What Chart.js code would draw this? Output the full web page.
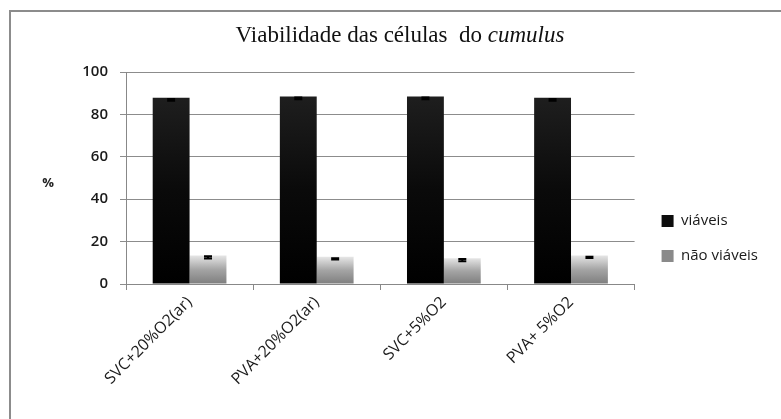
<!DOCTYPE html>
<html>
<head>
<meta charset="utf-8">
<script src="https://cdn.jsdelivr.net/npm/chart.js@4.4.1/dist/chart.umd.min.js"></script>
<style>
body { margin: 0; background: #fff; }
#wrap { position: relative; width: 781px; height: 419px; }
#frame { position: absolute; left: 9px; top: 10px; right: 0; bottom: 0; border-left: 2px solid #8c8c8c; border-top: 2px solid #8c8c8c; pointer-events: none; }
</style>
</head>
<body>
<div id="wrap">
  <canvas id="chart" width="781" height="419"></canvas>
  <div id="frame"></div>
</div>
<script>
const categories = ['SVC+20%O2(ar)', 'PVA+20%O2(ar)', 'SVC+5%O2', 'PVA+ 5%O2'];
const viaveis = [87.8, 88.5, 88.5, 87.8];
const naoViaveis = [13.5, 12.8, 12.2, 13.5];
const erroViaveis = [0.4, 0.4, 0.4, 0.4];
const erroNao = [0.5, 0.3, 0.5, 0.3];
const yTicks = [0, 20, 40, 60, 80, 100];

const yFont = { family: 'Open Sans', size: 15, weight: '600' };
const xFont = { family: 'Open Sans', size: 16 };
const legendFont = { family: 'Open Sans', size: 15 };
const legendColors = ['#0d0d0d', '#8a8a8a'];

// vertical gradient per bar, top to base
function barFill(stops, solid) {
    return function (ctx) {
        const chart = ctx.chart;
        if (ctx.type !== 'data' || !chart.chartArea) return solid;
        const y = chart.scales.y;
        const yTop = y.getPixelForValue(ctx.raw);
        const yBase = y.getPixelForValue(0);
        const g = chart.ctx.createLinearGradient(0, yTop, 0, yBase);
        stops.forEach(function (s, i) { g.addColorStop(i / (stops.length - 1), s); });
        return g;
    };
}

const errorBars = {
    id: 'errorBars',
    afterDatasetsDraw(chart) {
        const y = chart.scales.y;
        const c = chart.ctx;
        [erroViaveis, erroNao].forEach(function (errs, i) {
            const meta = chart.getDatasetMeta(i);
            const vals = chart.data.datasets[i].data;
            meta.data.forEach(function (bar, j) {
                const yHi = y.getPixelForValue(vals[j] + errs[j]) + 2;
                const yLo = y.getPixelForValue(vals[j] - errs[j]) + 2;
                c.save();
                c.strokeStyle = '#000';
                c.lineWidth = 2;
                c.beginPath();
                c.moveTo(bar.x - 4, yHi); c.lineTo(bar.x + 4, yHi);
                c.moveTo(bar.x, yHi); c.lineTo(bar.x, yLo);
                c.moveTo(bar.x - 4, yLo); c.lineTo(bar.x + 4, yLo);
                c.stroke();
                c.restore();
            });
        });
    }
};

// push the legend a bit further away from the plot
const legendShift = {
    id: 'legendShift',
    afterLayout(chart) {
        chart.legend.left += 7;
        chart.legend.right += 7;
    }
};

const titleAndUnit = {
    id: 'titleAndUnit',
    afterDraw(chart) {
        const c = chart.ctx;
        const area = chart.chartArea;
        c.save();
        c.fillStyle = '#111';
        c.textBaseline = 'alphabetic';
        const part1 = 'Viabilidade das células  do ';
        const part2 = 'cumulus';
        c.font = '23px "Liberation Serif"';
        const w1 = c.measureText(part1).width;
        c.font = 'italic 23px "Liberation Serif"';
        const w2 = c.measureText(part2).width;
        const x0 = 400 - (w1 + w2) / 2;
        c.font = '23px "Liberation Serif"';
        c.fillText(part1, x0, 42);
        c.font = 'italic 23px "Liberation Serif"';
        c.fillText(part2, x0 + w1, 42);

        c.font = 'bold 13px "Open Sans"';
        c.textBaseline = 'middle';
        c.textAlign = 'center';
        c.fillStyle = '#222';
        c.fillText('%', area.left - 78, (area.top + area.bottom) / 2 + 5);
        c.restore();
    }
};

const chart = new Chart(document.getElementById('chart').getContext('2d'), {
    type: 'bar',
    data: {
        labels: categories,
        datasets: [{
            label: 'viáveis',
            data: viaveis,
            backgroundColor: barFill(['#1e1e1e', '#0a0a0a', '#000000'], legendColors[0]),
            borderWidth: 0,
            categoryPercentage: 0.58,
            barPercentage: 1.0
        }, {
            label: 'não viáveis',
            data: naoViaveis,
            backgroundColor: barFill(['#e6e6e6', '#a4a4a4', '#7e7e7e'], legendColors[1]),
            borderWidth: 0,
            categoryPercentage: 0.58,
            barPercentage: 1.0
        }]
    },
    options: {
        responsive: false,
        animation: false,
        layout: { padding: { top: 72, right: 20, bottom: 14, left: 0 } },
        plugins: {
            legend: {
                position: 'right',
                labels: {
                    boxWidth: 12,
                    boxHeight: 12,
                    padding: 20,
                    color: '#1a1a1a',
                    font: legendFont,
                    generateLabels: function (chart) {
                        const items = Chart.defaults.plugins.legend.labels.generateLabels(chart);
                        items.forEach(function (it, i) { it.fillStyle = legendColors[i]; it.lineWidth = 0; });
                        return items;
                    }
                }
            },
            tooltip: { enabled: false }
        },
        scales: {
            x: {
                grid: { drawOnChartArea: false, offset: true, color: '#888', tickLength: 6 },
                border: { color: '#888' },
                ticks: { minRotation: 45, maxRotation: 45, color: '#1a1a1a', font: xFont },
                afterFit: function (s) { s.height = 121; }
            },
            y: {
                min: 0,
                max: 100,
                afterBuildTicks: function (s) { s.ticks = yTicks.map(v => ({ value: v })); },
                ticks: { padding: 12, color: '#1a1a1a', font: yFont },
                grid: { color: '#8c8c8c', tickLength: 6 },
                border: { color: '#888' },
                afterFit: function (s) { s.width = 126; }
            }
        }
    },
    plugins: [errorBars, legendShift, titleAndUnit]
});
</script>
</body>
</html>
